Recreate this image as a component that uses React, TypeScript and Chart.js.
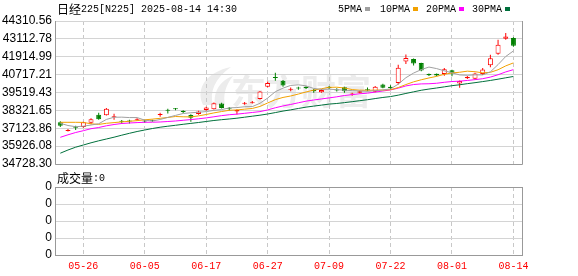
import React, { useEffect, useRef } from 'react';
import { Chart, registerables } from 'chart.js';

Chart.register(...registerables);

// ---------- data ----------
const dates = [
  '05-21', '05-22', '05-23', '05-26', '05-27', '05-28', '05-29', '05-30', '06-02', '06-03',
  '06-04', '06-05', '06-06', '06-09', '06-10', '06-11', '06-12', '06-13', '06-16', '06-17',
  '06-18', '06-19', '06-20', '06-23', '06-24', '06-25', '06-26', '06-27', '06-30', '07-01',
  '07-02', '07-03', '07-04', '07-07', '07-08', '07-09', '07-10', '07-11', '07-14', '07-15',
  '07-16', '07-17', '07-18', '07-22', '07-23', '07-24', '07-25', '07-28', '07-29', '07-30',
  '07-31', '08-01', '08-04', '08-05', '08-06', '08-07', '08-08', '08-12', '08-13', '08-14',
];

const opens = [
  37530, 36940, 37200, 37200, 37500, 38030, 38000, 37860, 37610, 37620,
  37690, 37620, 37640, 38020, 38330, 38430, 38290, 38010, 38080, 38340,
  38400, 38790, 38450, 38250, 38760, 38800, 39080, 39900, 40530, 40310,
  39700, 39830, 39900, 39700, 39540, 39880, 39720, 39870, 39380, 39500,
  39720, 39570, 40050, 39900, 40150, 41600, 41760, 41500, 40760, 40770,
  40760, 41010, 40130, 40480, 40440, 40760, 41340, 42120, 43120, 43170,
];
const highs = [
  37600, 37070, 37290, 37560, 37790, 38170, 38480, 38090, 37680, 37700,
  37800, 37680, 37700, 38160, 38430, 38480, 38330, 38060, 38290, 38560,
  38850, 38830, 38540, 38390, 38880, 38950, 39620, 40250, 40850, 40350,
  39850, 39900, 39930, 39760, 39760, 39950, 39800, 39900, 39500, 39650,
  39850, 39950, 40100, 40000, 41380, 42070, 41800, 41520, 40800, 40800,
  41160, 41050, 40330, 40620, 40850, 41160, 42050, 43060, 43500, 43220,
];
const lows = [
  37200, 36900, 37010, 37150, 37400, 37700, 37970, 37700, 37420, 37450,
  37620, 37500, 37560, 37900, 38120, 38330, 38150, 37560, 38030, 38300,
  38380, 38450, 38320, 38040, 38700, 38780, 39050, 39870, 40300, 39900,
  39600, 39700, 39750, 39500, 39500, 39760, 39580, 39500, 39300, 39450,
  39600, 39540, 39800, 39700, 40050, 41430, 41330, 40950, 40620, 40600,
  40650, 40600, 39830, 40420, 40400, 40700, 41210, 42050, 43060, 42590,
];
const closes = [
  37299, 36986, 37160, 37532, 37724, 37722, 38433, 37900, 37560, 37580,
  37730, 37570, 37600, 38070, 38290, 38390, 38220, 37834, 38250, 38510,
  38800, 38480, 38403, 38354, 38790, 38850, 39585, 40151, 40487, 39986,
  39762, 39786, 39811, 39600, 39689, 39821, 39646, 39600, 39460, 39600,
  39663, 39901, 39830, 39820, 41171, 41826, 41456, 40998, 40675, 40655,
  41070, 40800, 40291, 40550, 40795, 41059, 41820, 42718, 43275, 42649,
];

const ma5 = [
  37455, 37308, 37228, 37260, 37340, 37425, 37714, 37862, 37868, 37839,
  37841, 37668, 37608, 37710, 37852, 37984, 38114, 38161, 38197, 38241,
  38323, 38375, 38489, 38509, 38565, 38575, 38796, 39146, 39573, 39812,
  39994, 40034, 39966, 39789, 39730, 39741, 39713, 39671, 39643, 39625,
  39594, 39645, 39691, 39763, 40077, 40510, 40821, 41054, 41225, 41122,
  40971, 40840, 40698, 40673, 40701, 40699, 40903, 41388, 41933, 42304,
];
const ma10 = [
  37522, 37522, 37522, 37516, 37422, 37382, 37455, 37502, 37550, 37590,
  37633, 37691, 37735, 37789, 37846, 37912, 37891, 37884, 37953, 38046,
  38153, 38244, 38325, 38353, 38403, 38449, 38586, 38817, 39041, 39189,
  39285, 39415, 39556, 39681, 39771, 39868, 39874, 39819, 39716, 39678,
  39668, 39679, 39681, 39703, 39851, 40052, 40233, 40373, 40494, 40600,
  40740, 40830, 40876, 40949, 40912, 40835, 40871, 41043, 41303, 41503,
];
const ma20 = [
  36517, 36685, 36839, 36960, 37094, 37174, 37288, 37375, 37442, 37476,
  37503, 37523, 37529, 37543, 37576, 37610, 37657, 37704, 37757, 37818,
  37893, 37968, 38030, 38071, 38124, 38181, 38238, 38351, 38497, 38618,
  38719, 38830, 38940, 39017, 39087, 39158, 39230, 39318, 39379, 39433,
  39476, 39547, 39619, 39692, 39811, 39960, 40053, 40096, 40105, 40139,
  40204, 40255, 40279, 40326, 40381, 40443, 40552, 40708, 40899, 41051,
];
const ma30 = [
  35452, 35666, 35854, 36001, 36149, 36283, 36403, 36524, 36658, 36785,
  36906, 37007, 37107, 37194, 37261, 37322, 37389, 37449, 37510, 37577,
  37644, 37697, 37744, 37798, 37865, 37932, 37999, 38079, 38173, 38275,
  38357, 38450, 38539, 38608, 38673, 38743, 38784, 38840, 38904, 38971,
  39035, 39113, 39187, 39246, 39342, 39456, 39564, 39670, 39750, 39822,
  39898, 39975, 40038, 40111, 40178, 40251, 40326, 40412, 40504, 40593,
];

const volumes = [
  0, 0, 0, 0, 0, 0, 0, 0, 0, 0,
  0, 0, 0, 0, 0, 0, 0, 0, 0, 0,
  0, 0, 0, 0, 0, 0, 0, 0, 0, 0,
  0, 0, 0, 0, 0, 0, 0, 0, 0, 0,
  0, 0, 0, 0, 0, 0, 0, 0, 0, 0,
  0, 0, 0, 0, 0, 0, 0, 0, 0, 0,
];

const priceTicks = [
  34728.30, 35926.08, 37123.86, 38321.65, 39519.43, 40717.21, 41914.99, 43112.78, 44310.56,
];
const volTicks = [0, 1, 2, 3, 4];
const volTickLabels = ['0', '0', '0', '0', '0'];
const xTickIdx = [3, 11, 19, 27, 35, 43, 51, 59];

const titleText = '日经225[N225] 2025-08-14 14:30';
const volumeTitle = '成交量:0';
const legendLabels = ['5PMA', '10PMA', '20PMA', '30PMA'];

// ---------- styles ----------
const X_MIN = -0.69;
const X_MAX = 60.117;
const UP_COLOR = '#ff0000';
const DOWN_COLOR = '#008000';
const MA_COLORS = ['#a0a0a0', '#f2a100', '#ff00ff', '#00703c'];
const GRID_H = '#d4d4d4';
const GRID_V = '#c8c8c8';
const FRAME = '#999999';
const LEGEND_X = [338, 380, 426, 472];

function drawMixed(ctx: CanvasRenderingContext2D, text: string, x: number, y: number, color: string) {
  ctx.save();
  ctx.fillStyle = color;
  ctx.textBaseline = 'middle';
  ctx.textAlign = 'left';
  let cx = x;
  for (const ch of text) {
    const cjk = /[\u3000-\u9fff\uff00-\uffef]/.test(ch);
    ctx.font = cjk ? '12px "Noto Sans CJK SC"' : '10px "Liberation Mono"';
    ctx.fillText(ch, cx, y);
    cx += ctx.measureText(ch).width;
  }
  ctx.restore();
  return cx;
}

const mainDecor = {
  id: 'mainDecor',
  beforeDraw(chart: any) {
    const ctx = chart.ctx as CanvasRenderingContext2D;
    ctx.save();
    ctx.fillStyle = '#ececec';
    // logo swoosh
    ctx.beginPath();
    ctx.moveTo(203, 105);
    ctx.bezierCurveTo(195, 88, 207, 72, 231, 67);
    ctx.bezierCurveTo(215, 78, 209, 92, 213, 105);
    ctx.closePath();
    ctx.fill();
    ctx.beginPath();
    ctx.moveTo(215, 105);
    ctx.bezierCurveTo(213, 91, 221, 80, 233, 76);
    ctx.bezierCurveTo(225, 86, 223, 96, 225, 105);
    ctx.closePath();
    ctx.fill();
    ctx.font = 'bold 35px "Noto Sans CJK SC"';
    ctx.textBaseline = 'middle';
    ctx.fillText('东方财富', 231, 92);
    ctx.restore();
  },
  beforeDatasetsDraw(chart: any) {
    const ctx = chart.ctx as CanvasRenderingContext2D;
    const a = chart.chartArea;
    ctx.save();
    ctx.strokeStyle = FRAME;
    ctx.lineWidth = 1;
    ctx.beginPath();
    ctx.moveTo(a.left + 0.5, a.top);
    ctx.lineTo(a.left + 0.5, a.bottom + 0.5);
    ctx.lineTo(a.right + 0.5, a.bottom + 0.5);
    ctx.lineTo(a.right + 0.5, a.top);
    ctx.stroke();
    ctx.restore();
  },
  afterDraw(chart: any) {
    const ctx = chart.ctx as CanvasRenderingContext2D;
    drawMixed(ctx, titleText, 57, 9, '#000');
    legendLabels.forEach((lab, k) => {
      const end = drawMixed(ctx, lab, LEGEND_X[k], 9, '#000');
      ctx.save();
      ctx.fillStyle = MA_COLORS[k];
      ctx.fillRect(Math.round(end) + 3, 7, 5, 4);
      ctx.restore();
    });
  },
};

const volDecor = {
  id: 'volDecor',
  beforeDatasetsDraw(chart: any) {
    const ctx = chart.ctx as CanvasRenderingContext2D;
    const a = chart.chartArea;
    ctx.save();
    ctx.strokeStyle = FRAME;
    ctx.lineWidth = 1;
    ctx.strokeRect(a.left + 0.5, a.top + 0.5, a.right - a.left, a.bottom - a.top);
    ctx.restore();
  },
  afterDraw(chart: any) {
    drawMixed(chart.ctx, volumeTitle, 57, 10, '#000');
  },
};

export default function App() {
  const mainRef = useRef<HTMLCanvasElement | null>(null);
  const volRef = useRef<HTMLCanvasElement | null>(null);

  useEffect(() => {
    document.body.style.margin = '0';
    const isUp = closes.map((c, i) => c >= opens[i]);
    const candleColors = isUp.map((u) => (u ? UP_COLOR : DOWN_COLOR));
    const bodyFill = isUp.map((u) => (u ? '#ffffff' : DOWN_COLOR));
    const maSeries = [ma5, ma10, ma20, ma30];

    const xScale = (labels: boolean): any => ({
      type: 'linear',
      min: X_MIN,
      max: X_MAX,
      offset: false,
      grid: { color: GRID_V, lineWidth: 1, drawTicks: false, offset: false },
      border: { display: false, dash: [4, 3] },
      ticks: labels
        ? {
            display: true,
            color: '#ff0000',
            font: { family: 'Liberation Mono', size: 10 },
            padding: 5,
            maxRotation: 0,
            autoSkip: false,
            callback: (v: any) => dates[Number(v)] ?? '',
          }
        : { display: false },
      afterBuildTicks: (s: any) => {
        s.ticks = xTickIdx.map((v) => ({ value: v }));
      },
      afterFit: (s: any) => {
        s.height = labels ? 21 : 0;
      },
    });

    const main = new Chart(mainRef.current as HTMLCanvasElement, {
      type: 'bar',
      data: {
        datasets: [
          ...maSeries.map((arr, k) => ({
            type: 'line' as const,
            label: legendLabels[k],
            data: arr.map((v, i) => ({ x: i, y: v })),
            borderColor: MA_COLORS[k],
            borderWidth: 1,
            pointRadius: 0,
            tension: 0,
            fill: false,
            order: 0,
          })),
          {
            type: 'bar' as const,
            label: 'body',
            data: opens.map((o, i) => ({ x: i, y: [o, closes[i]] })),
            backgroundColor: bodyFill,
            borderColor: candleColors,
            borderWidth: 1,
            borderSkipped: false,
            barThickness: 5,
            grouped: false,
            minBarLength: 1,
            inflateAmount: 0,
            order: 1,
          },
          {
            type: 'bar' as const,
            label: 'wick',
            data: lows.map((l, i) => ({ x: i, y: [l, highs[i]] })),
            backgroundColor: candleColors,
            borderWidth: 0,
            barThickness: 1,
            grouped: false,
            inflateAmount: 0,
            order: 2,
          },
        ] as any,
      },
      options: {
        responsive: false,
        animation: false,
        events: [],
        layout: { padding: { left: 0, top: 21, right: 56, bottom: 12 } },
        plugins: { legend: { display: false }, tooltip: { enabled: false }, title: { display: false } },
        scales: {
          x: xScale(false),
          y: {
            type: 'linear',
            position: 'left',
            min: priceTicks[0],
            max: priceTicks[priceTicks.length - 1],
            grid: { color: GRID_H, lineWidth: 1, drawTicks: false },
            border: { display: false },
            ticks: {
              color: '#000',
              font: { family: 'Liberation Sans', size: 12 },
              padding: 3,
              autoSkip: false,
              callback: (v: any) => Number(v).toFixed(2),
            },
            afterBuildTicks: (s: any) => {
              s.ticks = priceTicks.map((v) => ({ value: v }));
            },
            afterFit: (s: any) => {
              s.width = 55;
            },
          } as any,
        },
      } as any,
      plugins: [mainDecor],
    });

    const vol = new Chart(volRef.current as HTMLCanvasElement, {
      type: 'bar',
      data: {
        datasets: [
          {
            label: 'volume',
            data: volumes.map((v, i) => ({ x: i, y: v })),
            backgroundColor: candleColors,
            borderWidth: 0,
            barThickness: 5,
            grouped: false,
            inflateAmount: 0,
            minBarLength: 0,
          },
        ] as any,
      },
      options: {
        responsive: false,
        animation: false,
        events: [],
        layout: { padding: { left: 0, top: 19, right: 56, bottom: 0 } },
        plugins: { legend: { display: false }, tooltip: { enabled: false }, title: { display: false } },
        scales: {
          x: xScale(true),
          y: {
            type: 'linear',
            position: 'left',
            min: volTicks[0],
            max: volTicks[volTicks.length - 1],
            grid: { color: GRID_H, lineWidth: 1, drawTicks: false },
            border: { display: false },
            ticks: {
              color: '#000',
              font: { family: 'Liberation Sans', size: 12 },
              padding: 3,
              autoSkip: false,
              callback: (_v: any, i: number) => volTickLabels[i],
            },
            afterBuildTicks: (s: any) => {
              s.ticks = volTicks.map((v) => ({ value: v }));
            },
            afterFit: (s: any) => {
              s.width = 55;
            },
          } as any,
        },
      } as any,
      plugins: [volDecor],
    });

    return () => {
      main.destroy();
      vol.destroy();
    };
  }, []);

  return (
    <div style={{ position: 'fixed', left: 0, top: 0, width: 578, height: 276, background: '#fff', overflow: 'hidden' }}>
      <canvas ref={mainRef} width={578} height={176} style={{ position: 'absolute', left: 0, top: 0 }} />
      <canvas ref={volRef} width={578} height={108} style={{ position: 'absolute', left: 0, top: 168 }} />
    </div>
  );
}
